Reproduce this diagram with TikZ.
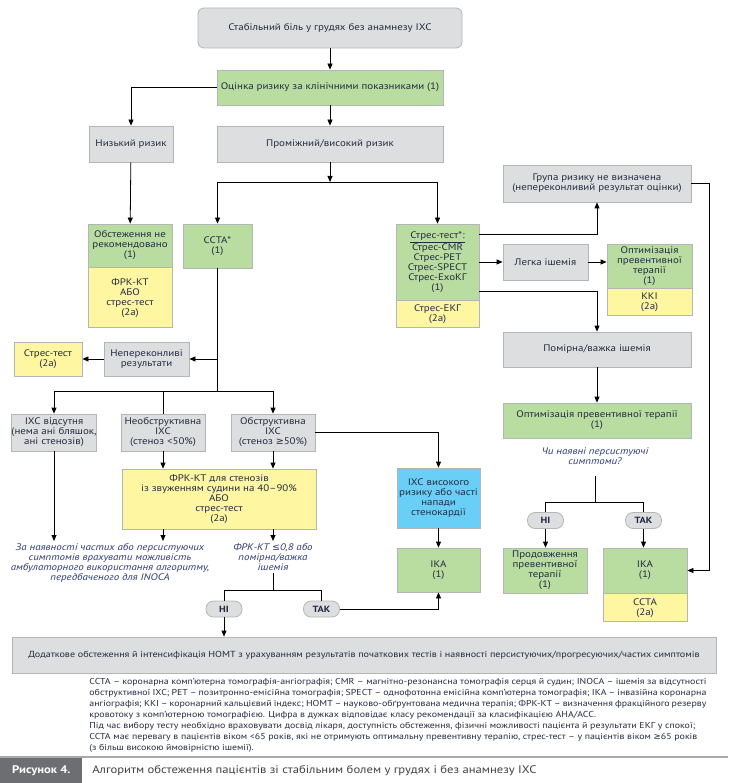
\documentclass[tikz,border=0pt]{standalone}
\usepackage{fontspec}
\setmainfont{PT Sans}[FakeStretch=1.15]
\newfontfamily\symfont{DejaVu Sans}
\usepackage{xcolor}
\usetikzlibrary{arrows.meta,positioning,calc}

\definecolor{boxgrey}{HTML}{DDDEDF}
\definecolor{edgegrey}{HTML}{B4B5B7}
\definecolor{boxgreen}{HTML}{B9DCA0}
\definecolor{boxyellow}{HTML}{FFF6A2}
\definecolor{boxblue}{HTML}{6ACFF6}
\definecolor{txt}{HTML}{232B40}
\definecolor{navy}{HTML}{2E3A78}
\definecolor{capdark}{HTML}{6D6E71}
\definecolor{capline}{HTML}{A7A9AC}
\definecolor{capgrey}{HTML}{3F4042}

\tikzset{
    every node/.style={font=\fontsize{9.5}{10}\selectfont, text=txt},
    box/.style={draw=edgegrey, line width=0.8pt, align=center, inner sep=0pt},
    greybox/.style={box, fill=boxgrey},
    greenbox/.style={box, fill=boxgreen},
    yellowbox/.style={box, fill=boxyellow},
    bluebox/.style={box, fill=boxblue},
    pill/.style={draw=edgegrey, fill=boxgrey, line width=0.8pt, rounded corners=7.5pt,
        minimum width=36pt, minimum height=16pt, inner sep=0pt,
        font=\fontsize{9}{10}\selectfont\bfseries},
    question/.style={align=center, inner sep=2pt, text=navy,
        font=\fontsize{9.5}{10}\selectfont\itshape},
    arr/.style={-{Triangle[length=6pt,width=5pt]}},
}

\begin{document}
\begin{tikzpicture}[x=1pt, y=-1pt, line width=0.8pt]
    \useasboundingbox (0,0) rectangle (728,783);

    % Entry and risk assessment
    \node[greybox, rounded corners=6pt, minimum width=264pt, minimum height=40pt] (start) at (330,28) {Стабільний біль у грудях без анамнезу ІХС};
    \node[greenbox, minimum width=226pt, minimum height=35pt] (risk) at (330,87.5) {Оцінка ризику за клінічними показниками (1)};
    \node[greybox, minimum width=84pt, minimum height=36pt] (low) at (131,144) {Низький ризик};
    \node[greybox, minimum width=226pt, minimum height=36pt] (mid) at (330,144) {Проміжний/високий ризик};
    \coordinate (split1) at (330,182);

    % Low risk
    \node[greenbox, minimum width=84pt, minimum height=43pt] (notrec) at (130,245.5) {Обстеження не\\рекомендовано\\(1)};
    \node[yellowbox, minimum width=84pt, minimum height=60pt, below=0pt of notrec] (notrecb) {ФРК-КТ\\АБО\\стрес-тест\\(2а)};

    % CCTA branch
    \node[greenbox, minimum width=69pt, minimum height=44pt] (ccta) at (217.5,246) {ССТА*\\(1)};
    \node[greybox, minimum width=85pt, minimum height=34pt] (unclear) at (146.5,359) {Непереконливі\\результати};
    \node[yellowbox, minimum width=68pt, minimum height=34pt] (stresslow) at (48,359) {Стрес-тест\\(2а)};
    \coordinate (split2) at (217.5,391);
    \node[greybox, minimum width=84pt, minimum height=37pt] (nocad) at (54,432.5) {ІХС відсутня\\(нема ані бляшок,\\ані стенозів)};
    \node[greybox, minimum width=84pt, minimum height=37pt] (nonobs) at (163,432.5) {Необструктивна\\ІХС\\(стеноз <50\%)};
    \node[greybox, minimum width=84pt, minimum height=37pt] (obs) at (273,432.5) {Обструктивна\\ІХС\\(стеноз {\symfont ≥}50\%)};
    \node[yellowbox, minimum width=194pt, minimum height=60pt] (ffr) at (219,499) {ФРК-КТ для стенозів\\із звуженням судини на 40–90\%\\АБО\\стрес-тест\\(2а)};
    \node[question, anchor=north] (inoca) at (110,541) {За наявності частих або персистуючих\\симптомів врахувати можливість\\амбулаторного використання алгоритму,\\передбаченого для INOCA};
    \node[question, anchor=north] (ffrnote) at (273,541) {ФРК-КТ {\symfont ≤}0,8 або\\помірна/важка\\ішемія};
    \coordinate (split3) at (273,590);
    \node[pill] (no1) at (224,609) {НІ};
    \node[pill] (yes1) at (321.5,609) {ТАК};
    \node[bluebox, minimum width=83pt, minimum height=60pt] (highrisk) at (438.5,498) {ІХС високого\\ризику або часті\\напади\\стенокардії};
    \node[greenbox, minimum width=83pt, minimum height=44pt] (ika1) at (438.5,570) {ІКА\\(1)};
    \node[greybox, minimum width=704pt, minimum height=36pt, font=\fontsize{8.8}{10}\selectfont] (final) at (364,655) {Додаткове обстеження й інтенсифікація НОМТ з урахуванням результатів початкових тестів і наявності персистуючих/прогресуючих/частих симптомів};

    % Stress test branch
    \node[greenbox, minimum width=83pt, minimum height=76pt] (stress) at (437.5,262) {\underline{Стрес-тест*:}\\Стрес-CMR\\Стрес-PET\\Стрес-SPECT\\Стрес-ЕхоКГ\\(1)};
    \node[yellowbox, minimum width=83pt, minimum height=27pt, below=0pt of stress] (stressb) {Стрес-ЕКГ\\(2а)};
    \node[greybox, minimum width=188pt, minimum height=37pt] (undet) at (597,183.5) {Група ризику не визначена\\(непереконливий результат оцінки)};
    \node[greybox, minimum width=85pt, minimum height=36pt] (mild) at (545.5,262) {Легка ішемія};
    \node[greenbox, minimum width=85pt, minimum height=44pt] (optsm) at (649.5,266) {Оптимізація\\превентивної\\терапії\\(1)};
    \node[yellowbox, minimum width=85pt, minimum height=27pt, below=0pt of optsm] (optsmb) {ККІ\\(2а)};
    \node[greybox, minimum width=188pt, minimum height=35pt] (modsev) at (597,349.5) {Помірна/важка ішемія};
    \node[greenbox, minimum width=188pt, minimum height=35pt] (opt) at (597,420.5) {Оптимізація превентивної терапії\\(1)};
    \node[question] (persist) at (595,456) {Чи наявні персистуючі\\симптоми?};
    \coordinate (split4) at (595,502);
    \node[pill] (no2) at (545.5,520.5) {НІ};
    \node[pill] (yes2) at (643.5,520.5) {ТАК};
    \node[greenbox, minimum width=84pt, minimum height=45pt] (cont) at (545,570.5) {Продовження\\превентивної\\терапії\\(1)};
    \node[greenbox, minimum width=84pt, minimum height=45pt] (ika2) at (645,570.5) {ІКА\\(1)};
    \node[yellowbox, minimum width=84pt, minimum height=28pt, below=0pt of ika2] (ika2b) {ССТА\\(2а)};

    % Connectors, left half
    \draw[arr] (start) -- (risk);
    \draw[arr] (risk.west) -| (low.north);
    \draw[arr] (risk) -- (mid);
    \draw[arr] (mid) -- (split1);
    \draw[arr] (split1) -| (ccta.north);
    \draw[arr] (split1) -| (stress.north);
    \draw[arr] (low) -- (notrec);
    \draw (ccta) -- (split2);
    \draw[arr] (ccta.south |- unclear.east) -- (unclear.east);
    \draw[arr] (unclear) -- (stresslow);
    \draw[arr] (split2) -| (nocad.north);
    \draw (split2) -| (nonobs.north);
    \draw[arr] (split2) -| (obs.north);
    \draw[arr] (nonobs) -- (ffr.north -| nonobs);
    \draw[arr] (obs) -- (ffr.north -| obs);
    \draw[arr] (obs.east) -| (highrisk.north);
    \draw[arr] (highrisk) -- (ika1);
    \draw[arr] (nocad) -- (inoca.north -| nocad);
    \draw[arr] (ffr.south -| nonobs) -- (inoca.north -| nonobs);
    \draw[arr] (ffr.south -| ffrnote) -- (ffrnote.north);
    \draw (ffrnote) -- (split3);
    \draw (split3) -| (no1.north);
    \draw (split3) -| (yes1.north);
    \draw[arr] (no1) -- (final.north -| no1);
    \draw[arr] (yes1.east) -| (ika1.south);

    % Connectors, right half
    \draw[arr] ([yshift=28pt]stress.east) -| (undet.south);
    \draw[arr] (stress.east) -- (mild.west);
    \draw[arr] (mild.east) -- (mild.east -| optsm.west);
    \draw[arr] ([yshift=-29pt]stress.east) -| (modsev.north);
    \draw[arr] (undet.east) -- ++(18,0) |- (ika2.east);
    \draw[arr] (modsev) -- (opt);
    \draw[shorten <=9pt] (persist) -- (split4);
    \draw (split4) -| (no2.north);
    \draw (split4) -| (yes2.north);
    \draw[arr] (no2) -- (cont.north -| no2);
    \draw[arr] (yes2) -- (ika2.north -| yes2);

    % Legend and caption
    \node[anchor=north west, text width=617pt, align=justify, inner sep=0pt, font=\fontsize{8.6}{11}\selectfont] (legend) at (89,678) {CCTA – коронарна комп’ютерна томографія-ангіографія; CMR – магнітно-резонансна томографія серця й судин; INOCA – ішемія за відсутності\linebreak обструктивної ІХС; PET – позитронно-емісійна томографія; SPECT – однофотонна емісійна комп’ютерна томографія; ІКА – інвазійна коронарна\linebreak ангіографія; ККІ – коронарний кальцієвий індекс; НОМТ – науково-обґрунтована медична терапія; ФРК-КТ – визначення фракційного резерву\linebreak кровотоку з комп’ютерною томографією. Цифра в дужках відповідає класу рекомендації за класифікацією AHA/ACC.\\
    *Під час вибору тесту необхідно враховувати досвід лікаря, доступність обстеження, фізичні можливості пацієнта й результати ЕКГ у спокої;\\
    CCTA має перевагу в пацієнтів віком <65 років, які не отримують оптимальну превентивну терапію, стрес-тест – у пацієнтів віком {\symfont ≥}65 років\\
    (з більш високою ймовірністю ішемії).};
    \draw[capline, line width=1.5pt] (0,757) -- (728,757);
    \node[fill=capdark, minimum width=82pt, minimum height=26pt, inner sep=0pt, anchor=north west, text=white, font=\fontsize{11}{12}\selectfont\bfseries] (figlabel) at (0,757.75) {Рисунок 4.};
    \node[anchor=west, inner sep=0pt, text=capgrey, font=\fontsize{11}{12}\selectfont] (figtitle) at (92,770.5) {Алгоритм обстеження пацієнтів зі стабільним болем у грудях і без анамнезу ІХС};
\end{tikzpicture}
\end{document}
